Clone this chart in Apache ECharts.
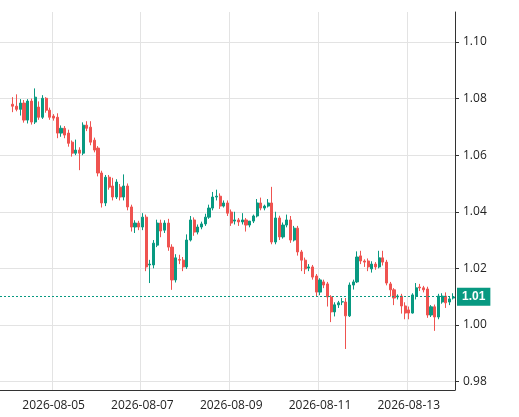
<!DOCTYPE html>
<html><head><meta charset="utf-8">
<script src="https://cdn.jsdelivr.net/npm/echarts@6/dist/echarts.min.js"></script>
<style>html,body{margin:0;padding:0;background:#fff}#c{width:519px;height:417px}</style>
</head><body><div id="c"></div>
<script>
const startTime = "2026-08-04T02:00";
const leadPad = 3;
const yTicks = [0.98, 1.00, 1.02, 1.04, 1.06, 1.08, 1.10];
const xLabelDates = ["2026-08-05","2026-08-07","2026-08-09","2026-08-11","2026-08-13"];
const lastPrice = 1.0099;
const opens = [1.0780,1.0773,1.0762,1.0784,1.0724,1.0791,1.0717,1.0770,1.0734,1.0801,
1.0759,1.0738,1.0734,1.0678,1.0695,1.0678,1.0646,1.0607,1.0618,1.0607,
1.0706,1.0699,1.0653,1.0625,1.0537,1.0431,1.0522,1.0491,1.0452,1.0487,
1.0452,1.0491,1.0417,1.0346,1.0360,1.0346,1.0381,1.0212,1.0212,1.0282,
1.0360,1.0335,1.0360,1.0275,1.0159,1.0231,1.0229,1.0205,1.0300,1.0371,
1.0328,1.0346,1.0357,1.0381,1.0413,1.0452,1.0455,1.0420,1.0431,1.0399,
1.0367,1.0371,1.0364,1.0371,1.0353,1.0367,1.0385,1.0431,1.0413,1.0420,
1.0431,1.0293,1.0378,1.0311,1.0353,1.0371,1.0300,1.0342,1.0258,1.0229,
1.0201,1.0205,1.0173,1.0116,1.0152,1.0145,1.0099,1.0046,1.0071,1.0081,
1.0081,1.0032,1.0141,1.0152,1.0244,1.0226,1.0226,1.0198,1.0215,1.0205,
1.0237,1.0222,1.0145,1.0124,1.0099,1.0102,1.0067,1.0053,1.0042,1.0102,
1.0134,1.0131,1.0127,1.0035,1.0064,1.0028,1.0081,1.0102,1.0081,1.0095];
const closes = [1.0773,1.0762,1.0784,1.0724,1.0791,1.0717,1.0805,1.0734,1.0801,1.0759,
1.0734,1.0731,1.0678,1.0695,1.0671,1.0642,1.0607,1.0618,1.0607,1.0706,
1.0695,1.0646,1.0618,1.0537,1.0431,1.0522,1.0487,1.0452,1.0505,1.0452,
1.0491,1.0417,1.0346,1.0360,1.0346,1.0381,1.0205,1.0215,1.0289,1.0360,
1.0332,1.0360,1.0275,1.0159,1.0237,1.0229,1.0205,1.0300,1.0371,1.0328,
1.0346,1.0357,1.0381,1.0413,1.0452,1.0455,1.0420,1.0431,1.0395,1.0360,
1.0371,1.0364,1.0371,1.0353,1.0367,1.0385,1.0431,1.0413,1.0420,1.0431,
1.0293,1.0378,1.0311,1.0353,1.0371,1.0300,1.0342,1.0258,1.0229,1.0198,
1.0205,1.0169,1.0116,1.0159,1.0141,1.0099,1.0046,1.0071,1.0078,1.0082,
1.0032,1.0141,1.0152,1.0240,1.0226,1.0222,1.0205,1.0215,1.0205,1.0237,
1.0222,1.0148,1.0124,1.0095,1.0102,1.0067,1.0042,1.0042,1.0106,1.0131,
1.0131,1.0124,1.0035,1.0064,1.0028,1.0102,1.0102,1.0078,1.0092,1.0099];
const highs = [1.0805,1.0815,1.0798,1.0795,1.0798,1.0800,1.0836,1.0790,1.0812,1.0805,
1.0768,1.0745,1.0748,1.0705,1.0703,1.0690,1.0652,1.0655,1.0628,1.0716,
1.0720,1.0720,1.0662,1.0632,1.0545,1.0530,1.0530,1.0520,1.0515,1.0498,
1.0532,1.0500,1.0425,1.0370,1.0368,1.0395,1.0390,1.0230,1.0300,1.0372,
1.0372,1.0370,1.0375,1.0285,1.0250,1.0248,1.0240,1.0320,1.0385,1.0380,
1.0355,1.0365,1.0393,1.0425,1.0470,1.0478,1.0465,1.0440,1.0440,1.0408,
1.0400,1.0378,1.0395,1.0378,1.0362,1.0390,1.0445,1.0450,1.0425,1.0445,
1.0488,1.0400,1.0386,1.0362,1.0390,1.0385,1.0350,1.0350,1.0265,1.0238,
1.0215,1.0212,1.0180,1.0165,1.0160,1.0152,1.0105,1.0080,1.0085,1.0095,
1.0095,1.0150,1.0160,1.0260,1.0262,1.0232,1.0235,1.0225,1.0222,1.0262,
1.0262,1.0230,1.0152,1.0130,1.0108,1.0110,1.0080,1.0065,1.0112,1.0148,
1.0145,1.0138,1.0135,1.0070,1.0072,1.0110,1.0112,1.0115,1.0102,1.0112];
const lows = [1.0752,1.0755,1.0740,1.0715,1.0712,1.0708,1.0710,1.0725,1.0728,1.0750,
1.0725,1.0722,1.0660,1.0665,1.0660,1.0630,1.0595,1.0600,1.0547,1.0600,
1.0685,1.0635,1.0610,1.0525,1.0415,1.0420,1.0478,1.0440,1.0445,1.0440,
1.0440,1.0405,1.0330,1.0325,1.0335,1.0335,1.0190,1.0148,1.0200,1.0275,
1.0310,1.0325,1.0262,1.0124,1.0150,1.0215,1.0190,1.0198,1.0295,1.0315,
1.0320,1.0338,1.0350,1.0375,1.0405,1.0440,1.0410,1.0415,1.0385,1.0350,
1.0355,1.0350,1.0355,1.0330,1.0345,1.0360,1.0380,1.0405,1.0405,1.0415,
1.0285,1.0285,1.0300,1.0305,1.0345,1.0290,1.0295,1.0245,1.0190,1.0180,
1.0190,1.0160,1.0100,1.0105,1.0130,1.0065,1.0010,1.0030,1.0060,1.0070,
0.9915,1.0028,1.0125,1.0148,1.0215,1.0205,1.0190,1.0185,1.0195,1.0200,
1.0210,1.0140,1.0100,1.0070,1.0090,1.0040,1.0020,1.0020,1.0040,1.0090,
1.0120,1.0115,1.0025,1.0028,0.9979,1.0020,1.0075,1.0060,1.0070,1.0090];

const cats = [], data = [];
const t0 = new Date(startTime + ":00Z").getTime();
for (let i = 0; i < leadPad + opens.length; i++) {
  const t = new Date(t0 + (i - leadPad) * 7200000).toISOString();
  cats.push(t.slice(0,10) + " " + t.slice(11,16));
  const k = i - leadPad;
  data.push(k < 0 ? '-' : [opens[k], closes[k], lows[k], highs[k]]);
}
const showIdx = (idx, val) => xLabelDates.some(d => val === d + " 00:00");
const chart = echarts.init(document.getElementById('c'));
chart.setOption({
  animation: false,
  grid: { left: 0, right: 64, top: 12, bottom: 27 },
  xAxis: {
    type: 'category', data: cats, boundaryGap: true,
    axisLine: { lineStyle: { color: '#333' } },
    axisTick: { show: false },
    axisLabel: { interval: showIdx, formatter: v => v.slice(0,10), color: '#222', fontSize: 12, margin: 10, fontFamily: 'Open Sans' },
    splitLine: { show: true, interval: showIdx, lineStyle: { color: '#e3e3e3' } }
  },
  yAxis: {
    type: 'value', position: 'right', min: 0.977, max: 1.1106, scale: true,
    axisLine: { show: true, lineStyle: { color: '#333' } },
    axisTick: { show: true, customValues: yTicks, length: 4, lineStyle: { color: '#333' } },
    axisLabel: { customValues: yTicks, formatter: v => v.toFixed(2), color: '#222', fontSize: 12, margin: 8, fontFamily: 'Open Sans' },
    splitLine: { show: true, lineStyle: { color: '#e3e3e3' } }
  },
  series: [{
    type: 'candlestick', data: data, barWidth: 2.6,
    itemStyle: { color: '#089981', color0: '#ef5350', borderColor: '#089981', borderColor0: '#ef5350', borderWidth: 1 },
    markLine: {
      symbol: 'none', silent: true,
      data: [{ yAxis: lastPrice }],
      lineStyle: { color: '#089981', type: [2, 2], width: 1 },
      label: { position: 'end', formatter: () => lastPrice.toFixed(2), color: '#fff', backgroundColor: '#089981', padding: [3, 5], fontSize: 12, fontWeight: 'bold', distance: 2 }
    }
  }]
});
</script></body></html>
